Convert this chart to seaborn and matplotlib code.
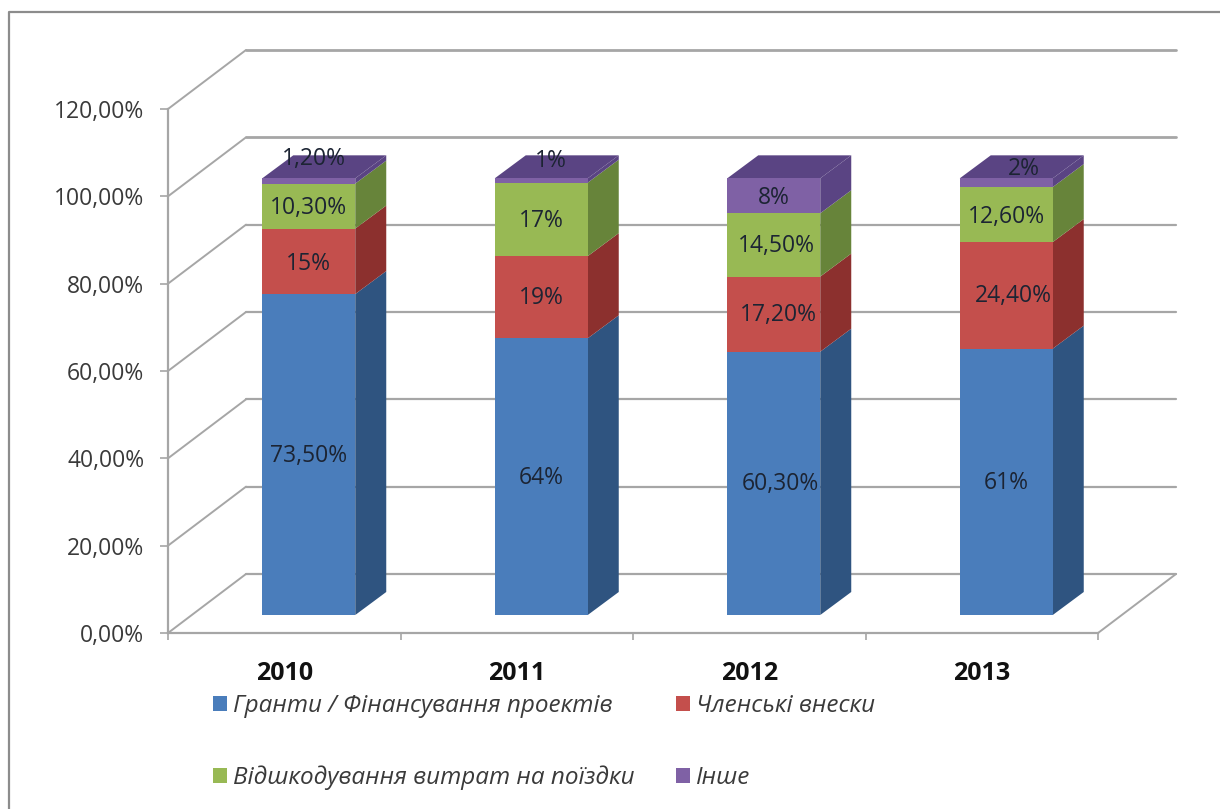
import numpy as np
import matplotlib
matplotlib.use('Agg')
import matplotlib.pyplot as plt
from matplotlib.lines import Line2D
from matplotlib.patches import Patch
import seaborn as sns

# values as printed on the chart, in percent
years = ['2010', '2011', '2012', '2013']
grants = [73.5, 64, 60.3, 61]
fees = [15, 19, 17.2, 24.4]
travel = [10.3, 17, 14.5, 12.6]
other = [1.2, 1, 8, 2]

grants_text = ['73,50%', '64%', '60,30%', '61%']
fees_text = ['15%', '19%', '17,20%', '24,40%']
travel_text = ['10,30%', '17%', '14,50%', '12,60%']
other_text = ['1,20%', '1%', '8%', '2%']

series_names = ['Гранти / Фінансування проектів', 'Членські внески',
                'Відшкодування витрат на поїздки', 'Інше']
front_colors = ['#4a7dbb', '#c44f4c', '#98b954', '#7f61a5']
side_colors = ['#2f5480', '#8c302e', '#67843a', '#5a4483']
y_ticks = [0, 20, 40, 60, 80, 100, 120]
y_tick_text = ['0,00%', '20,00%', '40,00%', '60,00%', '80,00%', '100,00%', '120,00%']

W, H = 1220, 809
GRAY = '#a6a6a6'
TEXT = '#3a3a3a'

sns.set_theme(style='white')
plt.rcParams['font.family'] = ['Open Sans', 'DejaVu Sans']

fig = plt.figure(figsize=(W / 100, H / 100), dpi=100, facecolor='white')


def add_axes_px(left, right, bottom, top):
    # axes from pixel positions, y counted from the top of the image
    return fig.add_axes([left / W, 1 - bottom / H, (right - left) / W, (bottom - top) / H])


# front plane of the box, the bars sit on a plane a bit further back
ax = add_axes_px(168, 1098, 633, 109)
ax_bar = add_axes_px(192.5, 1122.5, 615, 91)
ax_bar.patch.set_alpha(0)

px_x = 4 / 930  # category units per pixel
px_y = 120 / 524  # percent per pixel
wall_dx, wall_dy = 78 * px_x, 59 * px_y
bar_dx, bar_dy = 31 * px_x, 23 * px_y
bar_width = 93 * px_x

# walls and floor
ax.set_xlim(-0.5, 3.5)
ax.set_ylim(0, 120)
x0, x1 = -0.5, 3.5
for tick in y_ticks:
    ax.plot([x0, x0 + wall_dx], [tick, tick + wall_dy], color=GRAY, lw=1.4, clip_on=False)
    ax.plot([x0 + wall_dx, x1 + wall_dx], [tick + wall_dy, tick + wall_dy],
            color=GRAY, lw=2 if tick >= 100 else 1.6, clip_on=False)
ax.plot([x1, x1 + wall_dx], [0, wall_dy], color=GRAY, lw=1.4, clip_on=False)

ax.set_yticks(y_ticks, y_tick_text, fontsize=16.5, color=TEXT)
ax.set_xticks(np.arange(-0.5, 4))
ax.set_xticklabels([])
ax.set_xticks(np.arange(4), years, minor=True, fontsize=18, fontweight='bold', color='#111111')
ax.tick_params(axis='x', which='major', length=5, width=1.2, color=GRAY, bottom=True)
ax.tick_params(axis='x', which='minor', length=0, pad=20)
ax.tick_params(axis='y', length=6, width=1.2, color=GRAY, left=True, pad=11)
for side in ['top', 'right']:
    ax.spines[side].set_visible(False)
for side in ['left', 'bottom']:
    ax.spines[side].set_color(GRAY)
    ax.spines[side].set_linewidth(1.6)

# stacked front faces, the chart is 100% stacked so 2011 (sums to 101) gets scaled
all_series = np.array([grants, fees, travel, other], dtype=float)
shares = all_series / all_series.sum(axis=0) * 100
bottoms = np.vstack([np.zeros(4), shares.cumsum(axis=0)[:-1]])

for row in range(4):
    sns.barplot(x=years, y=shares[row], bottom=bottoms[row], color=front_colors[row],
                saturation=1, width=bar_width, errorbar=None, ax=ax_bar, zorder=3,
                linewidth=0)

ax_bar.set_xlim(-0.5, 3.5)
ax_bar.set_ylim(0, 120)
ax_bar.axis('off')

# side and top faces
for row in range(4):
    for col in range(4):
        right = col + bar_width / 2
        low = bottoms[row][col]
        high = low + shares[row][col]
        ax_bar.fill([right, right + bar_dx, right + bar_dx, right],
                    [low, low + bar_dy, high + bar_dy, high],
                    color=side_colors[row], lw=0, clip_on=False, zorder=2)
for col in range(4):
    left = col - bar_width / 2
    right = col + bar_width / 2
    ax_bar.fill([left, right, right + bar_dx, left + bar_dx],
                [100, 100, 100 + bar_dy, 100 + bar_dy],
                color=side_colors[3], lw=0, clip_on=False, zorder=2)

# data labels, the thin purple ones were moved up onto the top face
label_rows = [grants_text, fees_text, travel_text, other_text]
nudges = {(3, 0): (5, 22), (3, 1): (10, 19), (3, 2): (0, -2), (3, 3): (18, 14),
          (0, 2): (7, -1), (1, 2): (5, -1), (1, 3): (7, -1), (2, 2): (3, -1),
          (1, 0): (0, -3), (0, 1): (0, -1), (0, 0): (0, -1), (0, 3): (0, -1),
          (1, 1): (0, -1), (2, 0): (0, -2), (2, 1): (0, -2), (2, 3): (0, -2)}
for row, texts in enumerate(label_rows):
    for col, text in enumerate(texts):
        mid = bottoms[row][col] + shares[row][col] / 2
        ax_bar.annotate(text, (col, mid), xytext=nudges[(row, col)],
                        textcoords='offset pixels', ha='center', va='center',
                        fontsize=16.5, color='#1c2433', zorder=5, annotation_clip=False)

# legend
handles = [Patch(color=c, label=n, lw=0) for c, n in zip(front_colors, series_names)]
handles = [handles[0], handles[2], handles[1], handles[3]]
fig.legend(handles=handles, ncol=2, loc='upper left', bbox_to_anchor=(213 / W, 1 - 694 / H),
           frameon=False, handlelength=0.58, handleheight=0.58,
           handletextpad=0.25, labelspacing=1.97, columnspacing=1.7, borderpad=0,
           borderaxespad=0, labelcolor=TEXT, prop={'style': 'italic', 'size': 17.5})

# frame of the chart area, cut off by the screenshot on the right and at the bottom
fig.add_artist(Line2D([9 / W, 9 / W, 1], [0, 1 - 12 / H, 1 - 12 / H], color='#8c8c8c', lw=1.6))

plt.savefig('out.png', dpi=100)
